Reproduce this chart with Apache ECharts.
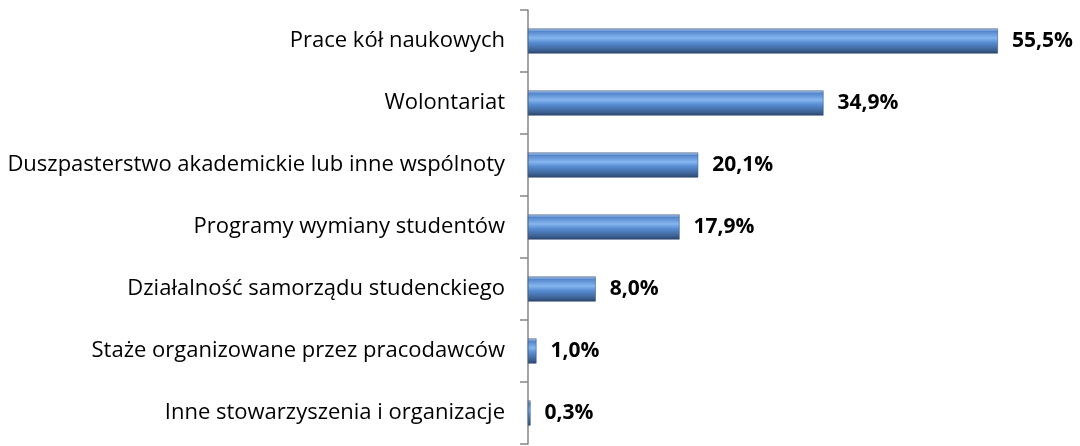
<!DOCTYPE html>
<html>
<head>
<meta charset="utf-8">
<script src="https://cdn.jsdelivr.net/npm/echarts@6/dist/echarts.min.js"></script>
<style>
  html, body { margin: 0; padding: 0; background: #fff; }
  #chart { width: 1080px; height: 446px; }
</style>
</head>
<body>
<div id="chart"></div>
<script>
const categories = [
  'Prace kół naukowych',
  'Wolontariat',
  'Duszpasterstwo akademickie lub inne wspólnoty',
  'Programy wymiany studentów',
  'Działalność samorządu studenckiego',
  'Staże organizowane przez pracodawców',
  'Inne stowarzyszenia i organizacje'
];
const values = [55.5, 34.9, 20.1, 17.9, 8.0, 1.0, 0.3];

const barColor = new echarts.graphic.LinearGradient(0, 0, 0, 1, [
  { offset: 0, color: '#b3cbea' },
  { offset: 0.12, color: '#5587cc' },
  { offset: 0.38, color: '#86b6ee' },
  { offset: 0.55, color: '#5a8fd6' },
  { offset: 0.85, color: '#3d6396' },
  { offset: 1, color: '#2b456c' }
]);

const chart = echarts.init(document.getElementById('chart'));
chart.setOption({
  animation: false,
  grid: { left: 528, right: 44, top: 10, bottom: 2, containLabel: false },
  xAxis: {
    type: 'value',
    min: 0,
    max: 60,
    show: false
  },
  yAxis: {
    type: 'category',
    inverse: true,
    data: categories,
    axisLine: { show: true, lineStyle: { color: '#868686', width: 1.5 } },
    axisTick: { show: true, length: 8, lineStyle: { color: '#868686', width: 1.5 } },
    axisLabel: {
      margin: 23,
      fontFamily: 'Open Sans',
      fontSize: 22,
      color: '#000'
    }
  },
  series: [{
    type: 'bar',
    data: values,
    barWidth: 25,
    itemStyle: { color: barColor, borderColor: '#2b456c', borderWidth: 0.5 },
    label: {
      show: true,
      position: 'right',
      distance: 14,
      fontFamily: 'Open Sans',
      fontWeight: 'bold',
      fontSize: 21,
      color: '#000',
      formatter: p => p.value.toFixed(1).replace('.', ',') + '%'
    }
  }]
});
</script>
</body>
</html>
